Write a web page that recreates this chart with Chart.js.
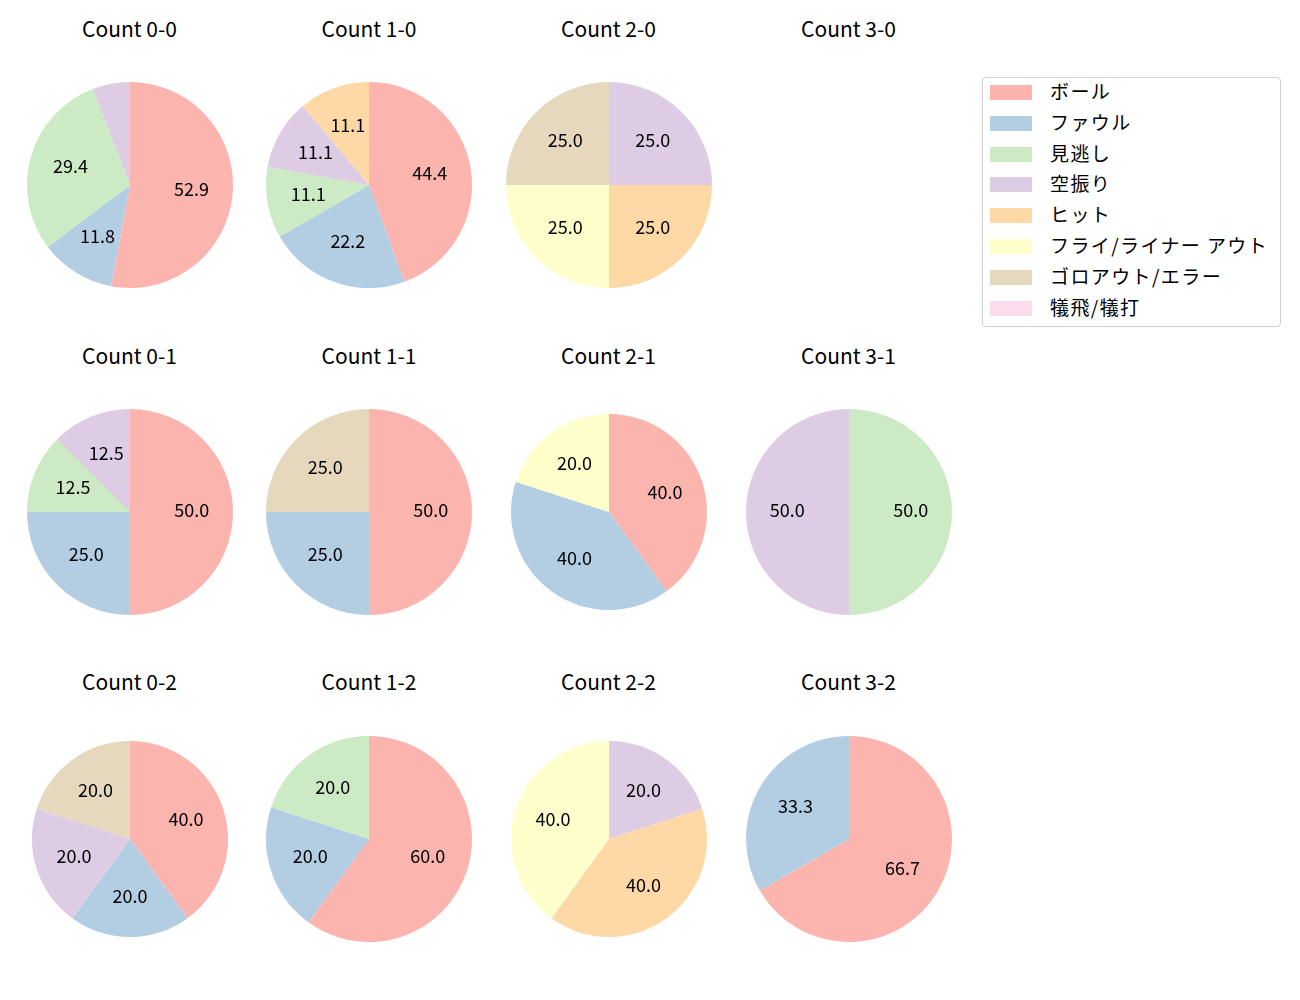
<!DOCTYPE html>
<html>
<head>
<meta charset="utf-8">
<script src="https://cdn.jsdelivr.net/npm/chart.js@4.4.0/dist/chart.umd.min.js"></script>
<style>
  body { margin: 0; background: #fff; font-family: "Noto Sans CJK JP", "Noto Sans", sans-serif; }
  #wrap { position: relative; width: 1300px; height: 1000px; overflow: hidden; }
  .cell { position: absolute; width: 240px; height: 240px; }
  .title { position: absolute; width: 240px; text-align: center; font-size: 21px; color: #000; line-height: 1; }
  #legend { position: absolute; left: 982px; top: 77px; width: 297px; height: 248px;
            border: 1px solid #d0d0d0; border-radius: 4px; }
  .item { position: absolute; left: 0; height: 20px; font-size: 19px; line-height: 20px; color: #000; }
  .sw { position: absolute; left: 7px; top: 2px; width: 42px; height: 15px; }
  .lab { position: absolute; left: 67px; top: -2px; white-space: nowrap; letter-spacing: 1.4px; }
</style>
</head>
<body>
<div id="wrap"></div>
<script>
// Categories and colours (Pastel1)
const categories = ['ボール', 'ファウル', '見逃し', '空振り', 'ヒット', 'フライ/ライナー アウト', 'ゴロアウト/エラー', '犠飛/犠打'];
const colors = ['#fbb4ae', '#b3cde3', '#ccebc5', '#decbe4', '#fed9a6', '#ffffcc', '#e5d8bd', '#fddaec'];

// Pitch counts per ball-strike count (same order as categories)
const count00 = [9, 2, 5, 1, 0, 0, 0, 0];
const count10 = [4, 2, 1, 1, 1, 0, 0, 0];
const count20 = [0, 0, 0, 1, 1, 1, 1, 0];
const count01 = [4, 2, 1, 1, 0, 0, 0, 0];
const count11 = [2, 1, 0, 0, 0, 0, 1, 0];
const count21 = [2, 2, 0, 0, 0, 1, 0, 0];
const count31 = [0, 0, 1, 1, 0, 0, 0, 0];
const count02 = [2, 1, 0, 1, 0, 0, 1, 0];
const count12 = [3, 1, 1, 0, 0, 0, 0, 0];
const count22 = [0, 0, 0, 1, 2, 2, 0, 0];
const count32 = [2, 1, 0, 0, 0, 0, 0, 0];

const panels = [
  { title: 'Count 0-0', data: count00, col: 0, row: 0, r: 103 },
  { title: 'Count 1-0', data: count10, col: 1, row: 0, r: 103 },
  { title: 'Count 2-0', data: count20, col: 2, row: 0, r: 103 },
  { title: 'Count 3-0', data: null,    col: 3, row: 0, r: 103 },
  { title: 'Count 0-1', data: count01, col: 0, row: 1, r: 103 },
  { title: 'Count 1-1', data: count11, col: 1, row: 1, r: 103 },
  { title: 'Count 2-1', data: count21, col: 2, row: 1, r: 98 },
  { title: 'Count 3-1', data: count31, col: 3, row: 1, r: 103 },
  { title: 'Count 0-2', data: count02, col: 0, row: 2, r: 98 },
  { title: 'Count 1-2', data: count12, col: 1, row: 2, r: 103 },
  { title: 'Count 2-2', data: count22, col: 2, row: 2, r: 98 },
  { title: 'Count 3-2', data: count32, col: 3, row: 2, r: 103 }
];

const colX = [129.5, 369, 608.5, 848.5];
const rowY = [185, 512, 838.5];
const titleY = [29, 356, 682];

// percentage labels at 0.6 of the radius, small slices skipped
const pctLabels = {
  id: 'pctLabels',
  afterDatasetsDraw(chart) {
    const ctx = chart.ctx;
    const values = chart.data.datasets[0].data;
    const total = values.reduce((a, b) => a + b, 0);
    const meta = chart.getDatasetMeta(0);
    ctx.save();
    ctx.font = '18px "Noto Sans CJK JP", "Noto Sans", sans-serif';
    ctx.fillStyle = '#000';
    ctx.textAlign = 'center';
    ctx.textBaseline = 'middle';
    meta.data.forEach((arc, i) => {
      const pct = values[i] / total * 100;
      if (pct < 10) return;
      const mid = (arc.startAngle + arc.endAngle) / 2;
      const x = arc.x + Math.cos(mid) * arc.outerRadius * 0.6;
      const y = arc.y + Math.sin(mid) * arc.outerRadius * 0.6;
      ctx.fillText(pct.toFixed(1), x, y - 1.5);
    });
    ctx.restore();
  }
};

const wrap = document.getElementById('wrap');

panels.forEach(p => {
  const t = document.createElement('div');
  t.className = 'title';
  t.textContent = p.title;
  t.style.left = (colX[p.col] - 120) + 'px';
  t.style.top = (titleY[p.row] - 11) + 'px';
  wrap.appendChild(t);
  if (!p.data) return;

  const box = document.createElement('div');
  box.className = 'cell';
  box.style.left = (colX[p.col] - 120) + 'px';
  box.style.top = (rowY[p.row] - 120) + 'px';
  const cv = document.createElement('canvas');
  cv.width = 240; cv.height = 240;
  box.appendChild(cv);
  wrap.appendChild(box);

  new Chart(cv, {
    type: 'pie',
    data: {
      labels: categories,
      datasets: [{
        data: p.data,
        backgroundColor: colors,
        borderWidth: 0
      }]
    },
    options: {
      responsive: false,
      animation: false,
      radius: p.r,
      layout: { padding: 0 },
      plugins: {
        legend: { display: false },
        tooltip: { enabled: false }
      }
    },
    plugins: [pctLabels]
  });
});

// legend
const legend = document.createElement('div');
legend.id = 'legend';
categories.forEach((c, i) => {
  const it = document.createElement('div');
  it.className = 'item';
  it.style.top = (5 + i * 30.8) + 'px';
  it.style.width = '297px';
  const sw = document.createElement('div');
  sw.className = 'sw';
  sw.style.background = colors[i];
  const lab = document.createElement('div');
  lab.className = 'lab';
  lab.textContent = c;
  it.appendChild(sw);
  it.appendChild(lab);
  legend.appendChild(it);
});
wrap.appendChild(legend);
</script>
</body>
</html>
